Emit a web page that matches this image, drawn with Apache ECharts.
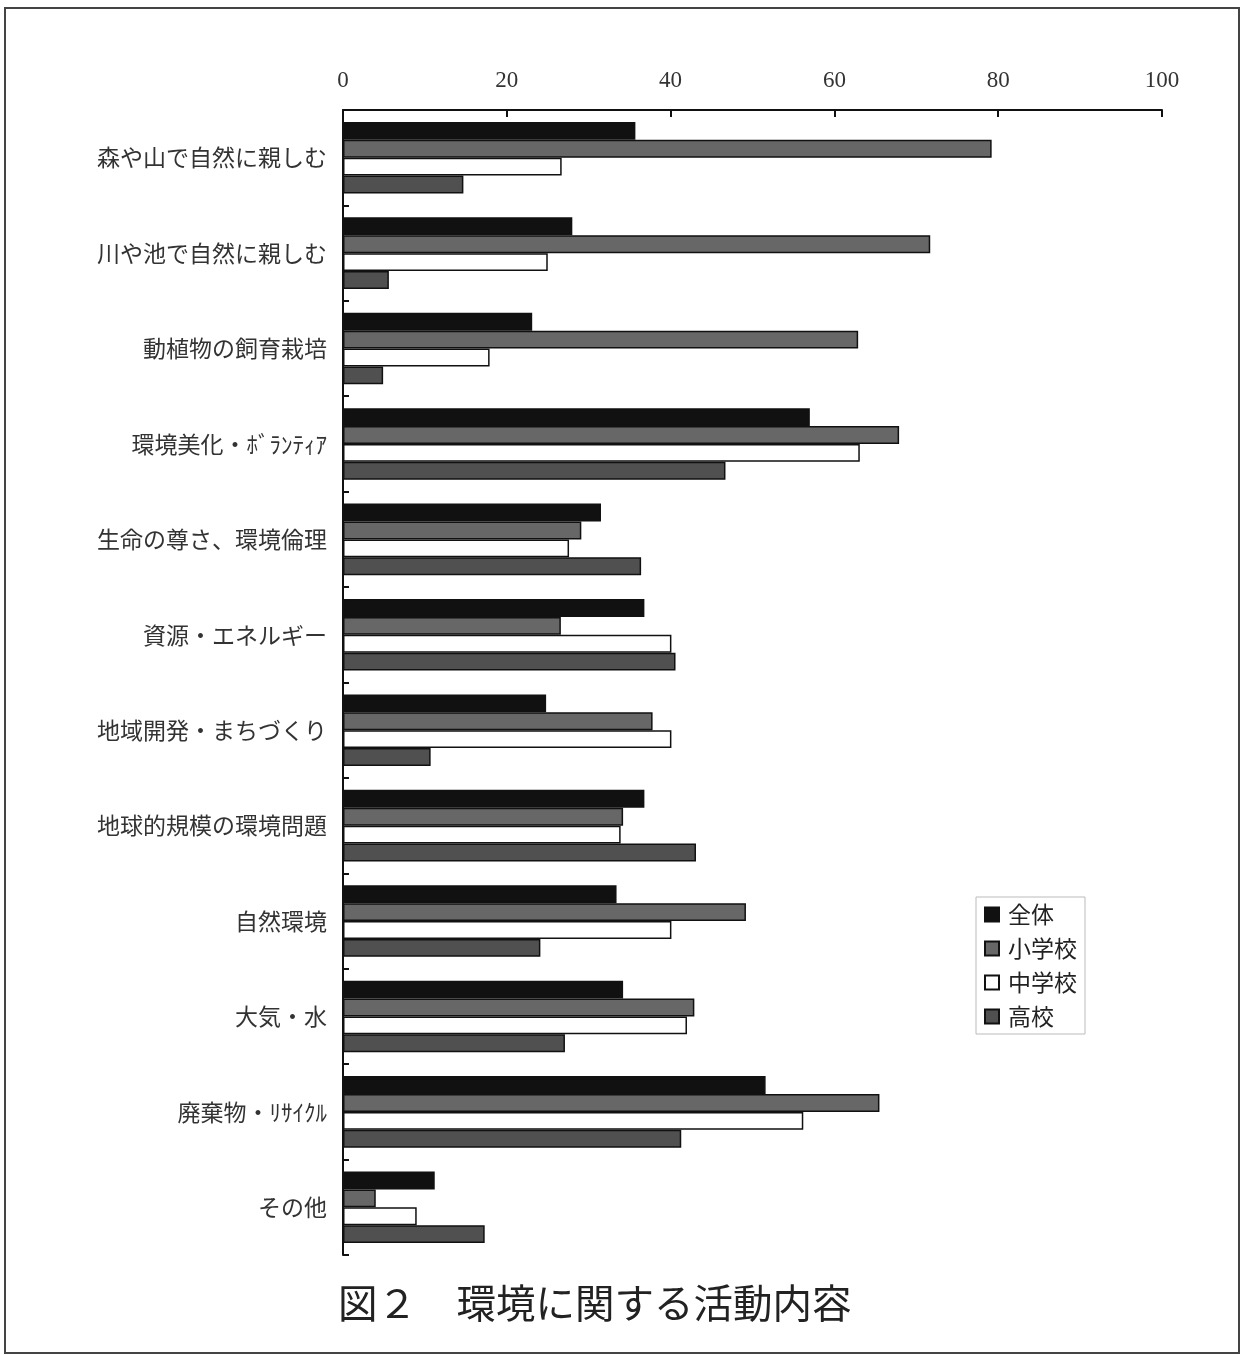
<!DOCTYPE html>
<html><head><meta charset="utf-8">
<script src="https://cdn.jsdelivr.net/npm/echarts@6/dist/echarts.min.js"></script>
<style>html,body{margin:0;padding:0;background:#fff}#c{width:1241px;height:1355px}</style>
</head><body><div id="c"></div>
<script>
const categories = ['森や山で自然に親しむ','川や池で自然に親しむ','動植物の飼育栽培','環境美化・ﾎﾞﾗﾝﾃｨｱ','生命の尊さ、環境倫理','資源・エネルギー','地域開発・まちづくり','地球的規模の環境問題','自然環境','大気・水','廃棄物・ﾘｻｲｸﾙ','その他'];
const seriesNames = ['全体','小学校','中学校','高校'];
const zentai = [35.7,28.0,23.1,57.0,31.5,36.8,24.8,36.8,33.4,34.2,51.6,11.2];
const shougakkou = [79.2,71.7,62.9,67.9,29.1,26.6,37.8,34.2,49.2,42.9,65.5,4.0];
const chuugakkou = [26.7,25.0,17.9,63.1,27.6,40.1,40.1,33.9,40.1,42.0,56.2,9.0];
const koukou = [14.7,5.6,4.9,46.7,36.4,40.6,10.7,43.1,24.1,27.1,41.3,17.3];
const xTicks = [0,20,40,60,80,100];
const title = '図２　環境に関する活動内容';

const colors = ['#111111','#676767','#ffffff','#505050'];
const dataSets = [zentai, shougakkou, chuugakkou, koukou];
const chart = echarts.init(document.getElementById('c'));
chart.setOption({
  animation:false,
  backgroundColor:'#fff',
  grid:{left:343,right:79,top:110,bottom:100,containLabel:false},
  legend:{
    data:seriesNames, orient:'vertical', right:156, top:897,
    itemWidth:14, itemHeight:14, itemGap:11, padding:[6,8,6,8],
    borderColor:'#bbbbbb', borderWidth:1, icon:'rect',
    textStyle:{fontFamily:'Noto Sans CJK JP', fontSize:23, color:'#222', padding:[0,0,0,4]}
  },
  xAxis:{type:'value', position:'top', min:0, max:100, interval:20,
    axisLine:{show:true, lineStyle:{color:'#111', width:2}},
    axisTick:{show:true, inside:true, length:7, lineStyle:{color:'#111', width:2}},
    splitLine:{show:false},
    axisLabel:{margin:18, fontFamily:'Liberation Serif', fontSize:23, color:'#333',
      formatter:v=>xTicks.includes(v)?String(v):''}
  },
  yAxis:{type:'category', data:categories, inverse:true,
    axisLine:{show:true, lineStyle:{color:'#111', width:2}},
    axisTick:{show:true, inside:true, length:6, lineStyle:{color:'#111', width:2}},
    axisLabel:{margin:16, fontFamily:'Noto Sans CJK JP', fontSize:23, color:'#333', verticalAlign:'middle', padding:[0,0,12,0]}
  },
  series: seriesNames.map((n,i)=>({
    name:n, type:'bar', data:dataSets[i], barGap:'0%', barCategoryGap:'25%',
    itemStyle:{color:colors[i], borderColor:'#111', borderWidth:1.5}
  })),
  graphic:[
    {type:'rect', shape:{x:5,y:8,width:1234,height:1345}, style:{fill:null, stroke:'#444', lineWidth:2}, silent:true},
    {type:'text', left:338, top:1283, style:{text:title, font:'39.5px "Noto Sans CJK JP"', fill:'#222'}}
  ]
});
</script></body></html>
